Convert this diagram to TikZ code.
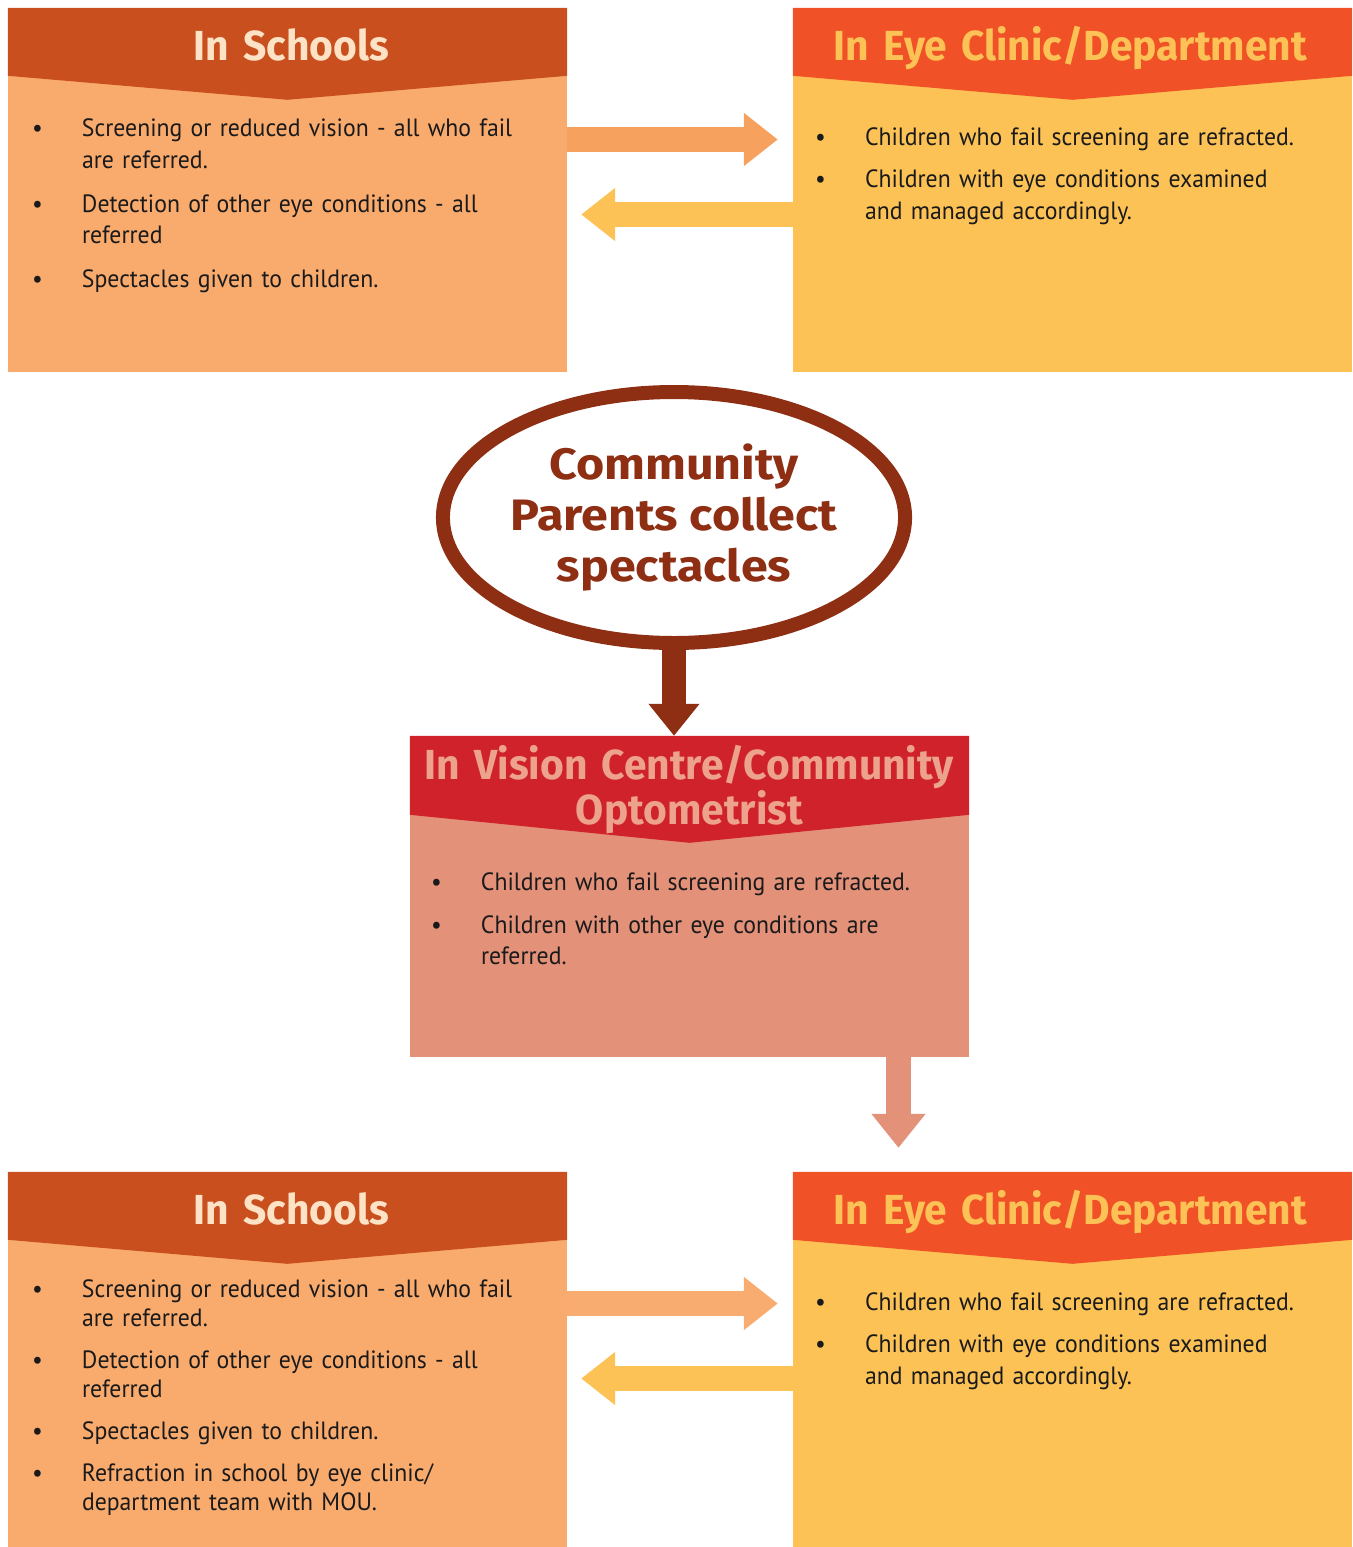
\documentclass[tikz,border=0pt]{standalone}
\usepackage{fontspec}
\usetikzlibrary{arrows.meta,shapes.geometric}
\newfontfamily\bodyfont{PT Sans}[FakeStretch=0.95]
\newfontfamily\headfont{Fira Sans}[FakeStretch=0.97]
\newfontfamily\ovalfont{Fira Sans}[FakeStretch=1.1]

\definecolor{schoolhead}{HTML}{C9501E}
\definecolor{schoolbody}{HTML}{F9AB6E}
\definecolor{schooltitle}{HTML}{FDE2C6}
\definecolor{clinichead}{HTML}{F05126}
\definecolor{clinicbody}{HTML}{FCC256}
\definecolor{clinictitle}{HTML}{FCC256}
\definecolor{visionhead}{HTML}{D0222B}
\definecolor{visionbody}{HTML}{E4917A}
\definecolor{visiontitle}{HTML}{ECA28C}
\definecolor{community}{HTML}{8E2E13}
\definecolor{arrowout}{HTML}{F7A15F}
\definecolor{arrowoutlight}{HTML}{F9AC6F}
\definecolor{ink}{HTML}{1A1A1A}

% one bullet point with a hanging indent
\newcommand\entry[1]{\ifvmode\noindent\fi\hangindent=50pt\hangafter=1
  \makebox[50pt][l]{\textbullet}#1\par}
% header band with a downward chevron: node, colour, flat depth, tip depth
\newcommand\headband[4]{%
  \fill[#2] (#1.north west) -- (#1.north east) -- ([yshift=-#3pt]#1.north east)
    -- ([yshift=-#4pt]#1.north) -- ([yshift=-#3pt]#1.north west) -- cycle;}

\tikzset{
  panel/.style={rectangle, inner sep=0pt, minimum width=559pt},
  paneltitle/.style={font=\headfont\bfseries\fontsize{42}{40}\selectfont,
    anchor=base, inner sep=0pt, text width=559pt, align=center},
  paneltext/.style={font=\bodyfont\fontsize{25}{31.5}\selectfont, text=ink,
    anchor=base west, inner sep=0pt, text width=530pt, align=left},
  blockarrow/.style={line width=25pt, -{Triangle[length=34pt,width=51pt]}},
}

\begin{document}
\begin{tikzpicture}[x=1pt,y=-1pt]
\useasboundingbox (0,0) rectangle (1352,1547);

% ---- top row ----
\node[panel, fill=schoolbody, minimum height=364pt] (s1) at (287.5,190) {};
\node[panel, fill=clinicbody, minimum height=364pt] (c1) at (1072.5,190) {};
\headband{s1}{schoolhead}{68}{92}
\headband{c1}{clinichead}{68}{92}
\node[paneltitle, text=schooltitle] (s1h) at ([xshift=4pt,yshift=-53pt]s1.north) {In Schools};
\node[paneltitle, text=clinictitle] (c1h) at ([xshift=-2pt,yshift=-53pt]c1.north) {In Eye Clinic/Department};

\node[paneltext] (s1t) at ([xshift=24pt,yshift=-129pt]s1.north west) {%
  \parskip=12.5pt%
  \entry{Screening or reduced vision - all who fail\newline are referred.}
  \entry{Detection of other eye conditions - all\newline referred}
  \entry{Spectacles given to children.}};
\node[paneltext] (c1t) at ([xshift=22pt,yshift=-138pt]c1.north west) {%
  \parskip=10.5pt%
  \entry{Children who fail screening are refracted.}
  \entry{Children with eye conditions examined\newline and managed accordingly.}};

\draw[blockarrow, arrowout, shorten >=15pt] ([yshift=50.5pt]s1.east) -- ([yshift=50.5pt]s1.east -| c1.west);
\draw[blockarrow, clinicbody, shorten >=14pt] ([yshift=-24.5pt]c1.west) -- ([yshift=-24.5pt]c1.west -| s1.east);

% ---- community ellipse ----
\node[ellipse, draw=community, line width=14pt, fill=white, inner sep=0pt,
  minimum width=454pt, minimum height=251pt, text=community, align=center,
  font=\ovalfont\bfseries\fontsize{44}{51}\selectfont] (e) at (674,517.5)
  {Community\\Parents collect\\spectacles};

% ---- vision centre ----
\node[panel, fill=visionbody, minimum height=321pt] (m) at (689.5,896.5) {};
\headband{m}{visionhead}{79}{107}
\node[paneltitle, text=visiontitle] (mh) at ([yshift=-44pt]m.north)
  {In Vision Centre/Community\\Optometrist};
\node[paneltext] (mt) at ([xshift=21pt,yshift=-155pt]m.north west) {%
  \parskip=11pt%
  \entry{Children who fail screening are refracted.}
  \entry{Children with other eye conditions are\newline referred.}};

\draw[line width=24pt, community, -{Triangle[length=32pt,width=49pt]}] (e.south) -- (e.south |- m.north);

% ---- bottom row ----
\node[panel, fill=schoolbody, minimum height=375pt] (s2) at (287.5,1359.5) {};
\node[panel, fill=clinicbody, minimum height=375pt] (c2) at (1072.5,1359.5) {};
\headband{s2}{schoolhead}{68}{92}
\headband{c2}{clinichead}{68}{92}
\node[paneltitle, text=schooltitle] (s2h) at ([xshift=4pt,yshift=-53pt]s2.north) {In Schools};
\node[paneltitle, text=clinictitle] (c2h) at ([xshift=-2pt,yshift=-53pt]c2.north) {In Eye Clinic/Department};

\node[paneltext, font=\bodyfont\fontsize{25}{29}\selectfont] (s2t)
  at ([xshift=24pt,yshift=-126pt]s2.north west) {%
  \parskip=13pt%
  \entry{Screening or reduced vision - all who fail\newline are referred.}
  \entry{Detection of other eye conditions - all\newline referred}
  \entry{Spectacles given to children.}
  \entry{Refraction in school by eye clinic/\newline department team with MOU.}};
\node[paneltext] (c2t) at ([xshift=22pt,yshift=-139pt]c2.north west) {%
  \parskip=10.5pt%
  \entry{Children who fail screening are refracted.}
  \entry{Children with eye conditions examined\newline and managed accordingly.}};

\draw[line width=25pt, visionbody, shorten >=24pt, -{Triangle[length=34pt,width=52pt]}]
  ([xshift=209pt]m.south) -- ([xshift=209pt]m.south |- c2.north);

\draw[blockarrow, arrowoutlight, shorten >=15pt] ([yshift=56pt]s2.east) -- ([yshift=56pt]s2.east -| c2.west);
\draw[blockarrow, clinicbody, shorten >=14pt] ([yshift=-19pt]c2.west) -- ([yshift=-19pt]c2.west -| s2.east);
\end{tikzpicture}
\end{document}
